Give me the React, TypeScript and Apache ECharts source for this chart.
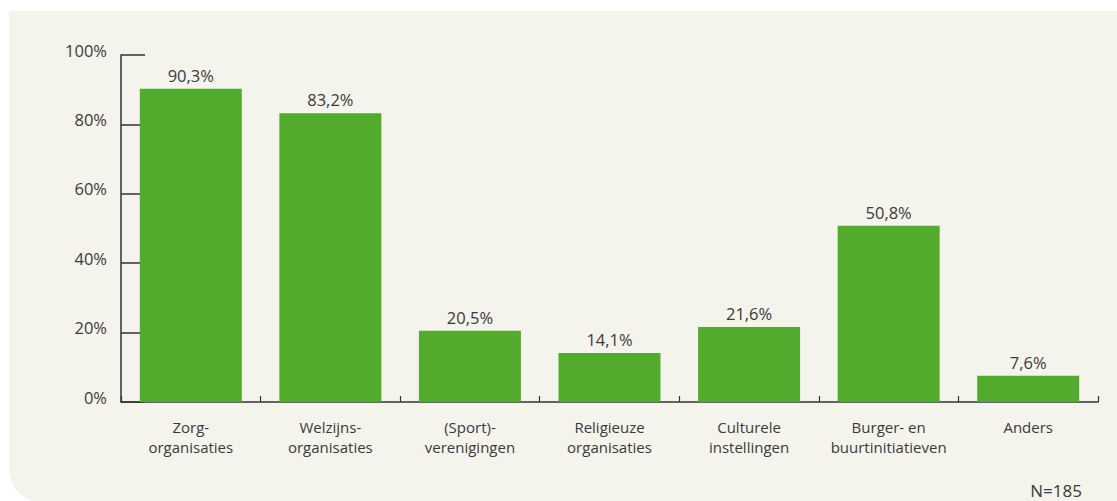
import React, { useEffect, useRef } from "react";
import * as echarts from "echarts";

const categories = [
  "Zorg-\norganisaties",
  "Welzijns-\norganisaties",
  "(Sport)-\nverenigingen",
  "Religieuze\norganisaties",
  "Culturele\ninstellingen",
  "Burger- en\nbuurtinitiatieven",
  "Anders",
];
const values = [90.3, 83.2, 20.5, 14.1, 21.6, 50.8, 7.6];
const yTicks = [0, 20, 40, 60, 80, 100];
const note = "N=185";

const FONT = "'Open Sans', 'Noto Sans', sans-serif";
const TEXT = "#3a3a3a";
const AXIS = "#333333";
const GREEN = "#53ab2e";

export default function App() {
  const ref = useRef<HTMLDivElement>(null);
  useEffect(() => {
    if (!ref.current) return;
    const chart = echarts.init(ref.current, undefined, { renderer: "svg" });
    chart.setOption({
      animation: false,
      backgroundColor: "#ffffff",
      graphic: [
        {
          type: "rect",
          z: -10,
          silent: true,
          shape: { x: 9, y: 11, width: 1200, height: 492, r: [0, 0, 0, 34] },
          style: { fill: "#f4f4ed" },
        },
        {
          type: "text",
          x: 1082,
          y: 490,
          style: {
            text: note,
            fill: TEXT,
            font: `17px ${FONT}`,
            textAlign: "right",
            textVerticalAlign: "middle",
          },
        },
      ],
      grid: { left: 121, right: 19, top: 55, bottom: 99, containLabel: false },
      xAxis: {
        type: "category",
        data: categories,
        axisLine: { show: true, lineStyle: { color: AXIS, width: 1.5 } },
        axisTick: {
          show: true,
          inside: true,
          length: 6,
          alignWithLabel: false,
          lineStyle: { color: AXIS, width: 1.2 },
        },
        axisLabel: {
          color: TEXT,
          fontFamily: FONT,
          fontSize: 15,
          lineHeight: 20,
          margin: 15,
          interval: 0,
        },
      },
      yAxis: {
        type: "value",
        min: 0,
        max: 100,
        interval: 20,
        splitLine: { show: false },
        axisLine: { show: true, lineStyle: { color: AXIS, width: 1.5 } },
        axisTick: {
          show: true,
          inside: true,
          length: 24,
          lineStyle: { color: AXIS, width: 1.5 },
        },
        axisLabel: {
          color: TEXT,
          fontFamily: FONT,
          fontSize: 16.5,
          margin: 14,
          verticalAlign: "bottom",
          lineHeight: 10,
          formatter: (v: number) => (yTicks.includes(v) ? `${v}%` : ""),
        },
      },
      series: [
        {
          type: "bar",
          data: values,
          barWidth: 102,
          itemStyle: { color: GREEN },
          label: {
            show: true,
            position: "top",
            distance: 5,
            color: TEXT,
            fontFamily: FONT,
            fontSize: 16.5,
            formatter: (p: any) => `${p.value.toFixed(1).replace(".", ",")}%`,
          },
        },
      ],
    });
    return () => chart.dispose();
  }, []);
  return (
    <div
      ref={ref}
      style={{ position: "fixed", left: 0, top: 0, width: 1117, height: 501 }}
    />
  );
}
